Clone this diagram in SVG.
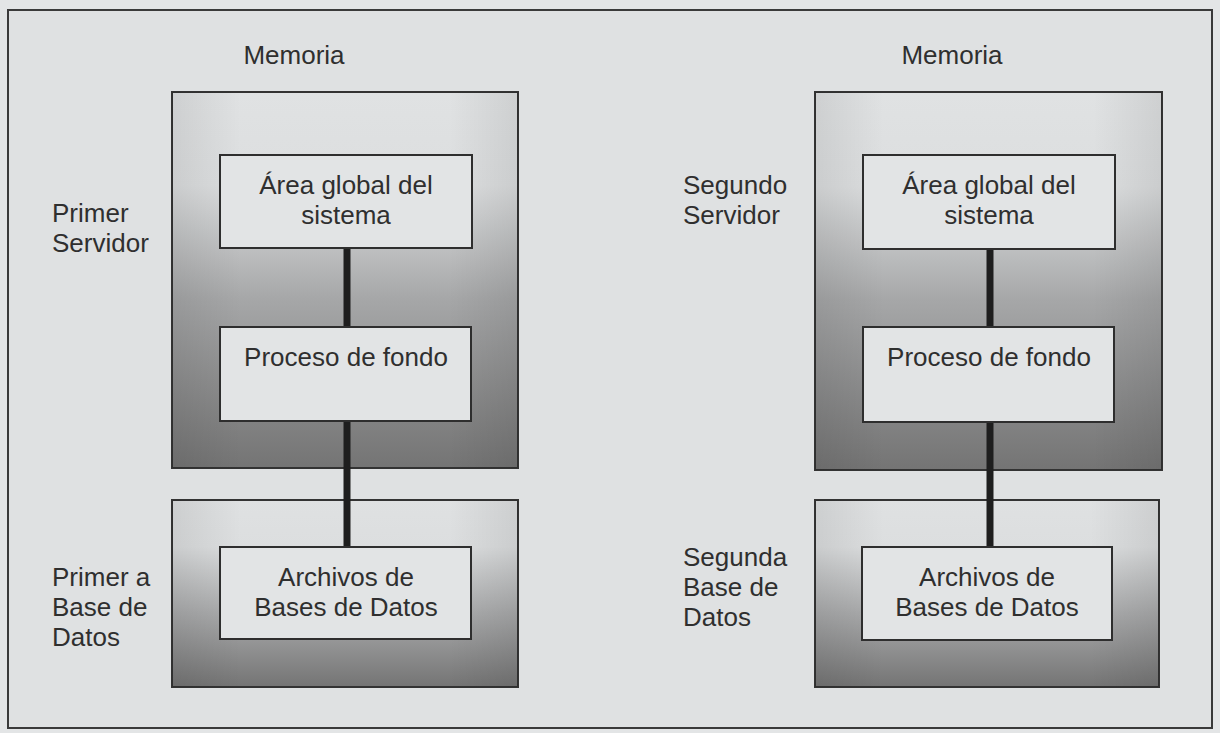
<svg xmlns="http://www.w3.org/2000/svg" width="1220" height="733" viewBox="0 0 1220 733">
<defs>
<linearGradient id="gMem" x1="0" y1="0" x2="0" y2="1">
<stop offset="0" stop-color="#e0e2e3"/>
<stop offset="0.25" stop-color="#dcdedf"/>
<stop offset="0.55" stop-color="#a6a7a8"/>
<stop offset="1" stop-color="#747474"/>
</linearGradient>
<linearGradient id="gDb" x1="0" y1="0" x2="0" y2="1">
<stop offset="0" stop-color="#dfe1e2"/>
<stop offset="0.25" stop-color="#dcdedf"/>
<stop offset="0.6" stop-color="#aaabac"/>
<stop offset="1" stop-color="#747474"/>
</linearGradient>
<linearGradient id="gSide" x1="0" y1="0" x2="1" y2="0">
<stop offset="0" stop-color="#000" stop-opacity="0.08"/>
<stop offset="0.2" stop-color="#000" stop-opacity="0"/>
<stop offset="0.8" stop-color="#000" stop-opacity="0"/>
<stop offset="1" stop-color="#000" stop-opacity="0.08"/>
</linearGradient>
<style>
.frame{fill:#dfe1e2;stroke:#3a3a3a;stroke-width:2}
.outer{stroke:#333;stroke-width:2}
.inner{fill:#e2e4e5;stroke:#2e2e2e;stroke-width:2}
.side{fill:url(#gSide)}
.t{font-family:"Liberation Sans",Arial,sans-serif;font-size:26px;fill:#2f2f2f}
.c{text-anchor:middle}
.conn{stroke:#1e1e1e;stroke-width:7;fill:none}
</style>
</defs>
<rect x="0" y="0" width="1220" height="733" fill="#e3e5e6"/>
<rect class="frame" x="8" y="10" width="1204" height="718"/>

<g id="left-memory">
<rect class="outer" x="172" y="92" width="346" height="376" fill="url(#gMem)"/>
<rect class="side" x="172" y="92" width="346" height="376"/>
<text class="t c" x="294" y="64">Memoria</text>
</g>
<g id="left-db">
<rect class="outer" x="172" y="500" width="346" height="187" fill="url(#gDb)"/>
<rect class="side" x="172" y="500" width="346" height="187"/>
</g>
<g id="right-memory">
<rect class="outer" x="815" y="92" width="347" height="378" fill="url(#gMem)"/>
<rect class="side" x="815" y="92" width="347" height="378"/>
<text class="t c" x="952" y="64">Memoria</text>
</g>
<g id="right-db">
<rect class="outer" x="815" y="500" width="344" height="187" fill="url(#gDb)"/>
<rect class="side" x="815" y="500" width="344" height="187"/>
</g>

<g id="connectors">
<line class="conn" x1="347" y1="248" x2="347" y2="327"/>
<line class="conn" x1="347" y1="421" x2="347" y2="547"/>
<line class="conn" x1="990" y1="249" x2="990" y2="327"/>
<line class="conn" x1="990" y1="422" x2="990" y2="547"/>
</g>

<g id="left-sga">
<rect class="inner" x="220" y="155" width="252" height="93"/>
<text class="t c" x="346" y="194">Área global del</text>
<text class="t c" x="346" y="224">sistema</text>
</g>
<g id="left-proc">
<rect class="inner" x="220" y="327" width="251" height="94"/>
<text class="t c" x="346" y="366">Proceso de fondo</text>
</g>
<g id="left-files">
<rect class="inner" x="220" y="547" width="251" height="92"/>
<text class="t c" x="346" y="586">Archivos de</text>
<text class="t c" x="346" y="616">Bases de Datos</text>
</g>
<g id="right-sga">
<rect class="inner" x="863" y="155" width="252" height="94"/>
<text class="t c" x="989" y="194">Área global del</text>
<text class="t c" x="989" y="224">sistema</text>
</g>
<g id="right-proc">
<rect class="inner" x="863" y="327" width="251" height="95"/>
<text class="t c" x="989" y="366">Proceso de fondo</text>
</g>
<g id="right-files">
<rect class="inner" x="862" y="547" width="250" height="93"/>
<text class="t c" x="987" y="586">Archivos de</text>
<text class="t c" x="987" y="616">Bases de Datos</text>
</g>

<g id="labels">
<text class="t" x="52" y="222">Primer</text>
<text class="t" x="52" y="252">Servidor</text>
<text class="t" x="52" y="586">Primer a</text>
<text class="t" x="52" y="616">Base de</text>
<text class="t" x="52" y="646">Datos</text>
<text class="t" x="683" y="194">Segundo</text>
<text class="t" x="683" y="224">Servidor</text>
<text class="t" x="683" y="566">Segunda</text>
<text class="t" x="683" y="596">Base de</text>
<text class="t" x="683" y="626">Datos</text>
</g>
</svg>
